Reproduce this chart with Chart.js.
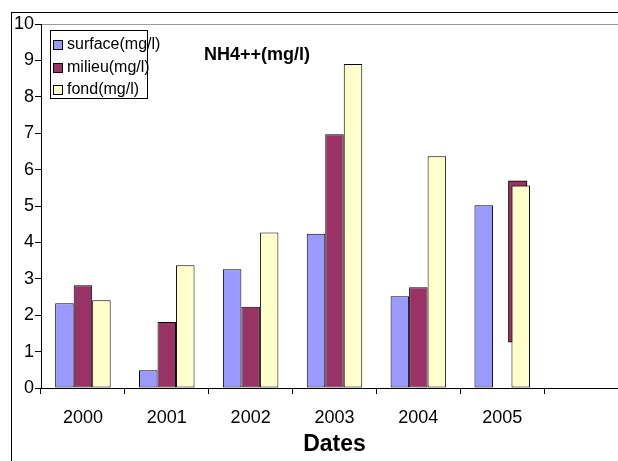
<!DOCTYPE html>
<html>
<head>
<meta charset="utf-8">
<script src="https://cdn.jsdelivr.net/npm/chart.js@4/dist/chart.umd.min.js"></script>
<style>
  html, body { margin: 0; padding: 0; background: #fff; overflow: hidden; }
  body { width: 618px; height: 461px; position: relative; font-family: "Liberation Sans", Arial, sans-serif; }
  #frame { position: absolute; left: 11px; top: 12px; width: 700px; height: 500px; border-left: 1px solid #000; border-top: 1px solid #000; }
  .layer { position: absolute; left: 0; top: 0; width: 640px; height: 461px; }
  #title { position: absolute; left: 204px; top: 45px; font-weight: bold; font-size: 18px; line-height: 18px; white-space: nowrap; }
  #legend { position: absolute; left: 50px; top: 30px; width: 96px; height: 65px; padding-top: 2px; border: 1px solid #000; background: #fff; font-size: 16px; }
  .row { height: 22.5px; line-height: 22.5px; white-space: nowrap; position: relative; }
  .sw { position: absolute; left: 2px; top: 7px; width: 8px; height: 8px; border: 1px solid #000; }
  .lab { position: absolute; left: 16px; top: 0; }
</style>
</head>
<body>
<div id="frame"></div>
<div class="layer"><canvas id="under" width="640" height="461"></canvas></div>
<div class="layer"><canvas id="chart" width="640" height="461"></canvas></div>
<div id="title">NH4++(mg/l)</div>
<div id="legend"></div>
<script>
const years = ['2000', '2001', '2002', '2003', '2004', '2005', ''];
const seriesNames = ['surface(mg/l)', 'milieu(mg/l)', 'fond(mg/l)'];
const seriesColors = ['#9999FF', '#993366', '#FFFFCC'];
const surface = [2.33, 0.49, 3.26, 4.24, 2.52, 5.02, null];
const milieu = [2.82, 1.81, 2.23, 6.97, 2.77, null, null];
const fond = [2.41, 3.37, 4.27, 8.90, 6.37, 5.56, null];
// 2005 milieu shows as a floating bar, slid right and half hidden behind fond
const milieu2005 = [1.26, 5.69];
const milieu2005Pos = 5.185;
const yMin = 0, yMax = 10, yStep = 1;

const legend = document.getElementById('legend');
legend.innerHTML = seriesNames.map((name, i) => `
    <div class="row"><span class="sw" style="background:${seriesColors[i]}"></span><span class="lab">${name}</span></div>
`).join('');

const barStyle = { borderColor: '#000', borderWidth: 1, borderSkipped: false, categoryPercentage: 0.662, barPercentage: 1 };

// misplaced 2005 milieu bar, drawn on a canvas under the main chart
new Chart(document.getElementById('under'), {
    type: 'bar',
    data: {
        datasets: [{
            data: [{ x: milieu2005Pos, y: milieu2005 }],
            grouped: false,
            backgroundColor: seriesColors[1], borderColor: '#000', borderWidth: 1, borderSkipped: false,
            categoryPercentage: 1, barPercentage: 1, maxBarThickness: 18.6
        }]
    },
    options: {
        responsive: false,
        animation: false,
        layout: { padding: { top: 24, right: 12, bottom: 73, left: 41 } },
        plugins: { legend: { display: false }, tooltip: { enabled: false } },
        scales: {
            x: { type: 'linear', min: -0.5, max: years.length - 0.5, offset: false, display: false, ticks: { stepSize: 1 } },
            y: { min: yMin, max: yMax, display: false }
        }
    }
});

new Chart(document.getElementById('chart'), {
    type: 'bar',
    data: {
        labels: years,
        datasets: [
            { label: seriesNames[0], data: surface, backgroundColor: seriesColors[0], ...barStyle },
            { label: seriesNames[1], data: milieu, backgroundColor: seriesColors[1], ...barStyle },
            { label: seriesNames[2], data: fond, backgroundColor: seriesColors[2], ...barStyle }
        ]
    },
    options: {
        responsive: false,
        animation: false,
        layout: { padding: { top: 24, right: 12, bottom: 0, left: 0 } },
        plugins: { legend: { display: false }, tooltip: { enabled: false }, title: { display: false } },
        scales: {
            x: {
                offset: true,
                grid: { display: true, drawOnChartArea: false, drawTicks: true, tickLength: 6, color: '#000', offset: true },
                border: { display: true, color: '#000', width: 1 },
                ticks: { color: '#000', font: { family: 'Liberation Sans', size: 18 }, padding: 13, maxRotation: 0, autoSkip: false },
                title: { display: true, text: 'Dates', color: '#000', font: { family: 'Liberation Sans', size: 23, weight: 'bold' }, padding: { top: 0, bottom: 3 } },
                afterFit: scale => { scale.height = 73; }
            },
            y: {
                min: yMin,
                max: yMax,
                ticks: { stepSize: yStep, color: '#000', font: { family: 'Liberation Sans', size: 18 }, padding: 1 },
                grid: {
                    drawTicks: true,
                    tickLength: 6,
                    tickColor: '#000',
                    color: ctx => ctx.tick && ctx.tick.value === yMax ? '#999' : 'rgba(0,0,0,0)'
                },
                border: { display: true, color: '#000', width: 1 },
                afterFit: scale => { scale.width = 41; }
            }
        }
    }
});
</script>
</body>
</html>
